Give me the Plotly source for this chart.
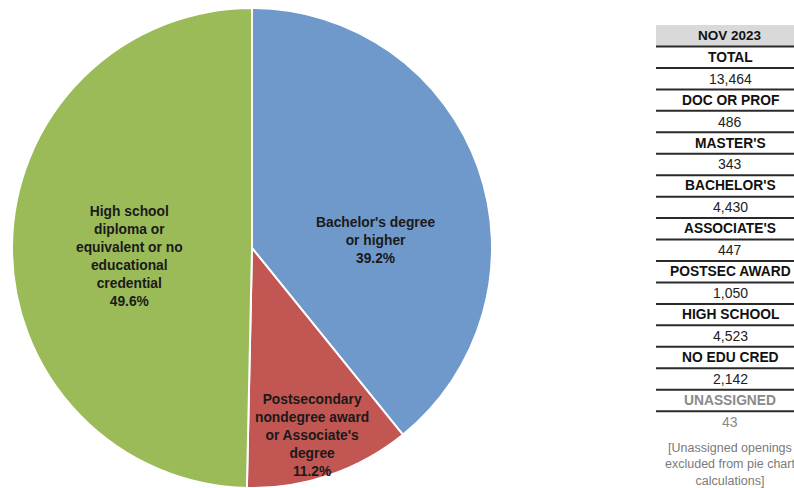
import plotly.graph_objects as go

# ---- data ----
slice_labels = ["Bachelor's degree or higher",
                "Postsecondary nondegree award or Associate's degree",
                "High school diploma or equivalent or no educational credential"]
slice_label_lines = ["Bachelor's degree<br>or higher",
                     "Postsecondary<br>nondegree award<br>or Associate's<br>degree",
                     "High school<br>diploma or<br>equivalent or no<br>educational<br>credential"]
slice_values = [486 + 343 + 4430, 447 + 1050, 4523 + 2142]
slice_pct = ["39.2%", "11.2%", "49.6%"]
slice_colors = ["#6F98CB", "#C25652", "#9BBB59"]

table_title = "NOV 2023"
table_labels = ["TOTAL", "DOC OR PROF", "MASTER'S", "BACHELOR'S", "ASSOCIATE'S",
                "POSTSEC AWARD", "HIGH SCHOOL", "NO EDU CRED", "UNASSIGNED"]
table_values = ["13,464", "486", "343", "4,430", "447", "1,050", "4,523", "2,142", "43"]
table_note = "[Unassigned openings<br>excluded from pie chart<br>calculations]"

W, H = 794, 488

fig = go.Figure()
fig.add_trace(go.Pie(
    labels=slice_labels,
    values=slice_values,
    sort=False,
    direction="clockwise",
    rotation=0,
    marker=dict(colors=slice_colors, line=dict(color="white", width=2)),
    textinfo="none",
    hoverinfo="label+percent",
    showlegend=False,
    domain=dict(x=[12 / W, 492 / W], y=[0, 480 / H]),
))

def px(x):
    return x / W

def py(y):
    return 1 - y / H

annotations = []
shapes = []

# slice labels
label_pos = [(375, 240), (312, 435), (129, 256)]
for (lx, ly), txt, pct in zip(label_pos, slice_label_lines, slice_pct):
    annotations.append(dict(
        x=px(lx), y=py(ly), xref="paper", yref="paper",
        text=f"<b>{txt}<br>{pct}</b>", showarrow=False,
        font=dict(family="Liberation Sans, Arial", size=13.8, color="#1a1a1a"),
        align="center", xanchor="center", yanchor="middle"))

# table
tx0, tx1, tcx = 656, 805, 730
row_h = 21.45
top = 46.5
shapes.append(dict(type="rect", xref="paper", yref="paper",
                   x0=px(tx0), x1=px(tx1), y0=py(25), y1=py(top),
                   fillcolor="#D9D9D9", line=dict(width=0), layer="below"))
annotations.append(dict(x=px(tcx), y=py(35.7), xref="paper", yref="paper",
                        text=f"<b>{table_title}</b>", showarrow=False,
                        font=dict(family="Liberation Sans, Arial", size=13.5, color="#111"),
                        xanchor="center", yanchor="middle"))
rows = []
for lab, val in zip(table_labels, table_values):
    rows.append((lab, True))
    rows.append((val, False))
for i, (txt, bold) in enumerate(rows):
    cy = top + (i + 0.5) * row_h
    gray = i >= 16
    color = "#8a8a8a" if gray else ("#111" if bold else "#222")
    annotations.append(dict(x=px(tcx), y=py(cy), xref="paper", yref="paper",
                            text=f"<b>{txt}</b>" if bold else txt, showarrow=False,
                            font=dict(family="Liberation Sans, Arial", size=13.8 if bold else 14, color=color),
                            xanchor="center", yanchor="middle"))
for k in range(len(rows)):
    ly = top + k * row_h
    shapes.append(dict(type="line", xref="paper", yref="paper",
                       x0=px(tx0), x1=px(tx1), y0=py(ly), y1=py(ly),
                       line=dict(color="#2a2a2a", width=2)))
annotations.append(dict(x=px(tcx), y=py(464), xref="paper", yref="paper",
                        text=table_note, showarrow=False,
                        font=dict(family="Liberation Sans, Arial", size=12.5, color="#7a7a7a"),
                        align="center", xanchor="center", yanchor="middle"))

fig.update_layout(
    width=W, height=H,
    margin=dict(l=0, r=0, t=0, b=0),
    paper_bgcolor="white", plot_bgcolor="white",
    annotations=annotations, shapes=shapes,
)
fig.write_html("out.html")
